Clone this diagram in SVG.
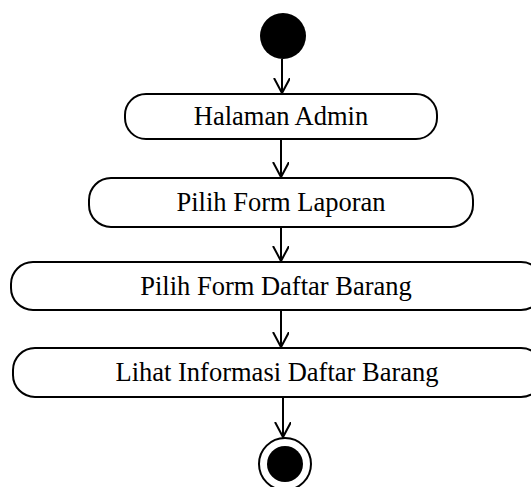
<svg xmlns="http://www.w3.org/2000/svg" width="531" height="487" viewBox="0 0 531 487">
<style>
.box{fill:#fff;stroke:#000;stroke-width:2}
.lbl{font-family:"Liberation Serif","Times New Roman",serif;font-size:26.5px;fill:#000;text-anchor:middle}
.edge{stroke:#000;stroke-width:2;fill:none}
</style>
<defs>
<marker id="arr" markerWidth="20" markerHeight="20" refX="15" refY="8" orient="auto" markerUnits="userSpaceOnUse">
<path d="M0,0 L15,8 L0,16" fill="none" stroke="#000" stroke-width="2"/>
</marker>
</defs>
<rect width="531" height="487" fill="#fff"/>
<g id="start"><circle cx="283" cy="36" r="23" fill="#000"/></g>
<g id="n1"><rect class="box" x="125" y="94" width="312" height="45" rx="21"/><text class="lbl" x="281" y="125">Halaman Admin</text></g>
<g id="n2"><rect class="box" x="89" y="178" width="384" height="49" rx="22"/><text class="lbl" x="281" y="211">Pilih Form Laporan</text></g>
<g id="n3"><rect class="box" x="11" y="262" width="532" height="48" rx="22"/><text class="lbl" x="276" y="295">Pilih Form Daftar Barang</text></g>
<g id="n4"><rect class="box" x="13" y="348" width="530" height="49" rx="22"/><text class="lbl" x="277" y="381">Lihat Informasi Daftar Barang</text></g>
<g id="end"><circle cx="285" cy="464" r="26" fill="#fff" stroke="#000" stroke-width="2"/><circle cx="285" cy="464" r="18" fill="#000"/></g>
<g id="edges">
<line class="edge" x1="282" y1="59" x2="282" y2="93" marker-end="url(#arr)"/>
<line class="edge" x1="281" y1="139" x2="281" y2="177" marker-end="url(#arr)"/>
<line class="edge" x1="281" y1="227" x2="281" y2="261" marker-end="url(#arr)"/>
<line class="edge" x1="281" y1="310" x2="281" y2="347" marker-end="url(#arr)"/>
<line class="edge" x1="283" y1="397" x2="283" y2="437" marker-end="url(#arr)"/>
</g>
</svg>
